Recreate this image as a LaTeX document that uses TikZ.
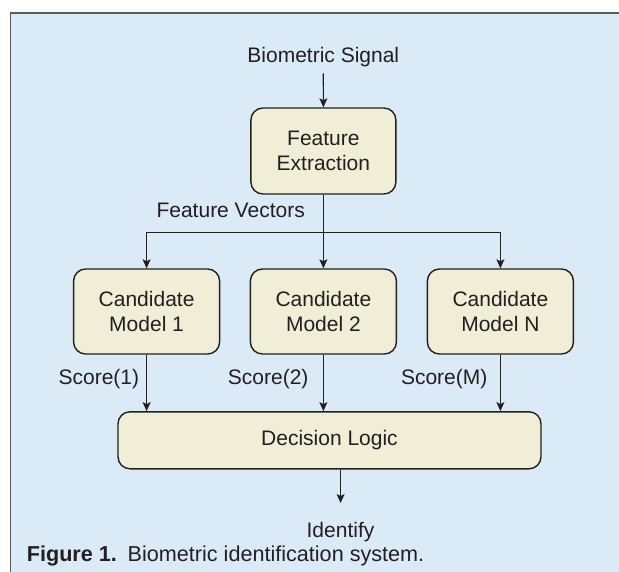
\documentclass[tikz,border=0pt]{standalone}
\usepackage{fontspec}
\setmainfont{Liberation Sans}
\usepackage{xcolor}
\usepackage{tikz}
\usetikzlibrary{arrows.meta,calc}

\definecolor{panelblue}{RGB}{219,234,247}
\definecolor{boxcream}{RGB}{240,238,214}
\definecolor{inkgray}{RGB}{35,31,32}
\definecolor{framegray}{RGB}{90,90,90}

\tikzset{
  blockbox/.style={rectangle, rounded corners=12pt, draw=inkgray, fill=boxcream,
    line width=1.4pt, align=center, text=inkgray, inner sep=0pt},
  flowtext/.style={inner sep=0pt, text=inkgray},
  flowline/.style={draw=inkgray, line width=1.2pt, -{Stealth[length=9pt,width=8pt,inset=2pt]}}
}

\begin{document}
\begin{tikzpicture}[x=1pt, y=-1pt, font=\fontsize{21}{25.7}\selectfont]

\useasboundingbox (0,0) rectangle (619,571);
\fill[white] (0,0) rectangle (619,571);
\fill[panelblue] (10.5,12.7) rectangle (640,590);
\draw[framegray, line width=1.6pt] (10.5,590) -- (10.5,12.7) -- (640,12.7);

% input and feature stage
\node[flowtext, anchor=base] (sig) at (323.3,62.7) {Biometric Signal};
\node[blockbox, minimum width=145pt, minimum height=86pt] (fe) at (323.4,151) {Feature\\Extraction};
\node[flowtext, anchor=base east] (fv) at (305,217.3) {Feature Vectors};
\coordinate (split) at (323.4,232.7);

% candidate models
\node[blockbox, minimum width=146pt, minimum height=85pt] (c1) at (146.6,311.5) {Candidate\\Model 1};
\node[blockbox, minimum width=146pt, minimum height=85pt] (c2) at (323.4,311.5) {Candidate\\Model 2};
\node[blockbox, minimum width=146pt, minimum height=85pt] (cN) at (500.4,311.5) {Candidate\\Model N};

\node[flowtext, anchor=base east] (s1) at (139.3,384.3) {Score(1)};
\node[flowtext, anchor=base east] (s2) at (308.7,384.3) {Score(2)};
\node[flowtext, anchor=base east] (sM) at (487.6,384.3) {Score(M)};

% decision
\node[blockbox, minimum width=423pt, minimum height=57pt] (dl) at (329.5,440.3) {Decision Logic};
\coordinate (out) at (340.6,503);
\node[flowtext, anchor=base] (id) at (340.5,537) {Identify};

\node[flowtext, anchor=base west, font=\fontsize{21.6}{26}\selectfont] (cap) at (26.7,561.7) {\textbf{Figure 1.}\hspace{0.5em}Biometric identification system.};

\draw[flowline, shorten <=6pt] (sig.south) -- (fe.north);
\draw[flowline] (fe.south) -- (c2.north);
\draw[flowline] (split) -| (c1.north);
\draw[flowline] (split) -| (cN.north);
\draw[flowline] (c1.south) -- (c1.south |- dl.north);
\draw[flowline] (c2.south) -- (c2.south |- dl.north);
\draw[flowline] (cN.south) -- (cN.south |- dl.north);
\draw[flowline] (dl.south -| out) -- (out);

\end{tikzpicture}
\end{document}
